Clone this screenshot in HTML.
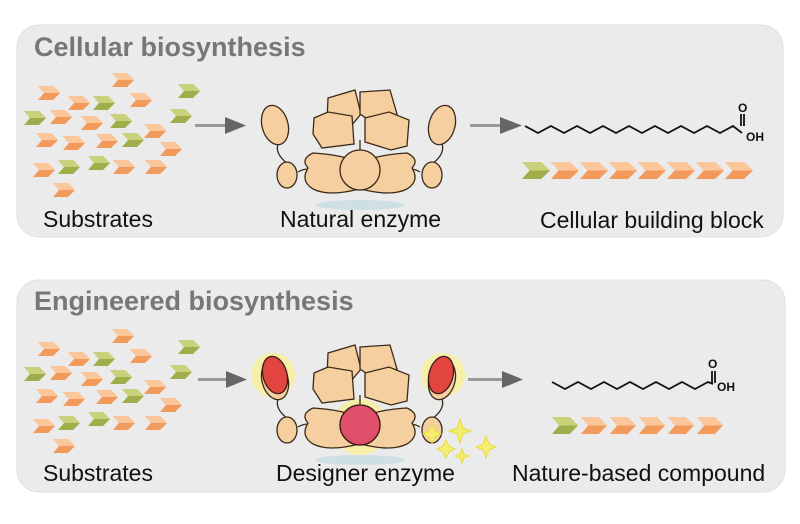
<!DOCTYPE html>
<html><head><meta charset="utf-8"><style>
html,body{margin:0;padding:0;background:#fff;}
svg{display:block}
</style></head><body>
<svg width="800" height="524" viewBox="0 0 800 524" xmlns="http://www.w3.org/2000/svg">
<defs>
<symbol id="cho" viewBox="0 0 22 14" overflow="visible" preserveAspectRatio="none"><path d="M0,0 H15 L22,7 L15,14 H0 L6,7 Z" fill="#f29a5c"/><path d="M0,0 H15 L22,7 H6 Z" fill="#fbc79a"/></symbol>
<symbol id="chg" viewBox="0 0 22 14" overflow="visible" preserveAspectRatio="none"><path d="M0,0 H15 L22,7 L15,14 H0 L6,7 Z" fill="#9fae4a"/><path d="M0,0 H15 L22,7 H6 Z" fill="#c8d27a"/></symbol>
<g id="subs">
<use href="#cho" x="38" y="86" width="22" height="14"/>
<use href="#cho" x="112" y="73" width="22" height="14"/>
<use href="#cho" x="68" y="96" width="22" height="14"/>
<use href="#chg" x="93" y="96" width="22" height="14"/>
<use href="#cho" x="130" y="93" width="22" height="14"/>
<use href="#chg" x="178" y="84" width="22" height="14"/>
<use href="#chg" x="24" y="111" width="22" height="14"/>
<use href="#cho" x="50" y="110" width="22" height="14"/>
<use href="#cho" x="81" y="116" width="22" height="14"/>
<use href="#chg" x="110" y="114" width="22" height="14"/>
<use href="#cho" x="144" y="124" width="22" height="14"/>
<use href="#chg" x="170" y="109" width="22" height="14"/>
<use href="#cho" x="36" y="133" width="22" height="14"/>
<use href="#cho" x="63" y="136" width="22" height="14"/>
<use href="#cho" x="96" y="134" width="22" height="14"/>
<use href="#chg" x="122" y="133" width="22" height="14"/>
<use href="#cho" x="160" y="142" width="22" height="14"/>
<use href="#cho" x="33" y="163" width="22" height="14"/>
<use href="#chg" x="58" y="160" width="22" height="14"/>
<use href="#chg" x="88" y="156" width="22" height="14"/>
<use href="#cho" x="113" y="160" width="22" height="14"/>
<use href="#cho" x="145" y="160" width="22" height="14"/>
<use href="#cho" x="53" y="183" width="22" height="14"/>
</g>
<g id="enz" stroke="#3a2a1a" stroke-width="1.3" fill="#f5cf9f">
<path d="M280,140 q-8,12 8,24 M440,140 q8,12 -8,24" fill="none"/>
<ellipse cx="275" cy="125" rx="13" ry="20" transform="rotate(-15 275 125)"/>
<ellipse cx="287" cy="175" rx="10" ry="13"/>
<ellipse cx="442" cy="125" rx="13" ry="20" transform="rotate(15 442 125)"/>
<ellipse cx="432" cy="175" rx="10" ry="13"/>
<path d="M298,172 q10,-6 20,0 M420,172 q-10,-6 -20,0" fill="none"/>
<path d="M328,98 l27,-8 l6,24 l-10,12 l-24,-4 z"/>
<path d="M360,92 l30,-2 l7,24 l-22,10 l-15,-10 z"/>
<path d="M314,118 l14,-6 l24,4 l2,28 l-32,4 l-9,-14 z"/>
<path d="M365,118 l24,-6 l20,8 l-2,26 l-16,4 l-26,-8 z"/>
<path d="M308,168 q-8,-9 5,-15 q32,2 46,10 l0,26 q-30,8 -46,0 q-13,-8 -5,-21 z"/>
<path d="M412,168 q8,-9 -5,-15 q-32,2 -46,10 l0,26 q30,8 46,0 q13,-8 5,-21 z"/>
<path d="M360,140 v12" fill="none"/>
<circle cx="360" cy="170" r="20"/>
</g>
</defs>

<rect x="17" y="25" width="766" height="212" rx="22" fill="#ebebeb" stroke="#e0e0e0"/>
<rect x="17" y="280" width="768" height="212" rx="22" fill="#ebebeb" stroke="#e0e0e0"/>

<g font-family="Liberation Sans, sans-serif">
<text x="34" y="56" font-size="27" font-weight="bold" fill="#777">Cellular biosynthesis</text>
<text x="34" y="310" font-size="27" font-weight="bold" fill="#777">Engineered biosynthesis</text>
<text x="43" y="227" font-size="23" fill="#111">Substrates</text>
<text x="280" y="227" font-size="23" fill="#111">Natural enzyme</text>
<text x="540" y="228" font-size="23" fill="#111">Cellular building block</text>
<text x="43" y="481" font-size="23" fill="#111">Substrates</text>
<text x="276" y="481" font-size="23" fill="#111">Designer enzyme</text>
<text x="512" y="481" font-size="23" fill="#111">Nature-based compound</text>
</g>

<use href="#subs"/>
<use href="#subs" y="256"/>

<g fill="#666">
<rect x="195" y="124" width="30" height="3" fill="#999"/><path d="M225,117 L246,125.5 L225,134 Z"/>
<rect x="470" y="124" width="30" height="3" fill="#999"/><path d="M500,117 L522,125.5 L500,134 Z"/>
<rect x="198" y="378" width="28" height="3" fill="#999"/><path d="M226,371 L247,379.5 L226,388 Z"/>
<rect x="468" y="378" width="34" height="3" fill="#999"/><path d="M502,371 L523,379.5 L502,388 Z"/>
</g>

<ellipse cx="360" cy="205" rx="45" ry="5" fill="#cfe0e4"/>
<use href="#enz"/>
<g transform="translate(0,255)">
<circle cx="273" cy="120" r="22" fill="#f7f0a0" opacity="0.9"/>
<circle cx="443" cy="120" r="22" fill="#f7f0a0" opacity="0.9"/>
<circle cx="360" cy="172" r="28" fill="#f7f0a0" opacity="0.9"/>
<ellipse cx="360" cy="205" rx="45" ry="5" fill="#cfe0e4"/>
<use href="#enz"/>
<ellipse cx="275" cy="120" rx="12" ry="19" transform="rotate(-15 275 120)" fill="#e0453f" stroke="#3a1a1a" stroke-width="1.3"/>
<ellipse cx="441" cy="120" rx="12" ry="19" transform="rotate(15 441 120)" fill="#e0453f" stroke="#3a1a1a" stroke-width="1.3"/>
<circle cx="360" cy="170" r="20" fill="#e0506a" stroke="#3a1a1a" stroke-width="1.3"/>
</g>
<g fill="#f4ee70" stroke="#e6dc40">
<path d="M429,431 l3,-6 l3,6 l6,3 l-6,3 l-3,6 l-3,-6 l-6,-3 z"/>
<path d="M457,428 l3,-9 l3,9 l8,3 l-8,3 l-3,9 l-3,-9 l-8,-3 z"/>
<path d="M443,446 l3,-6 l3,6 l6,3 l-6,3 l-3,6 l-3,-6 l-6,-3 z"/>
<path d="M483,444 l3,-8 l3,8 l7,3 l-7,3 l-3,8 l-3,-8 l-7,-3 z"/>
<path d="M460,454 l2,-5 l2,5 l5,2 l-5,2 l-2,5 l-2,-5 l-5,-2 z"/>
</g>

<g fill="none" stroke="#111" stroke-width="1.8">
<polyline points="525,126 538,133 551,126 564,133 577,126 590,133 603,126 616,133 629,126 642,133 655,126 668,133 681,126 694,133 707,126 720,133 733,126 742,133"/>
<path d="M741,126 v-12 M744,126 v-12"/>
<polyline points="552,382 565,389 578,382 591,389 604,382 617,389 630,382 643,389 656,382 669,389 682,382 695,389 708,382 713,384"/>
<path d="M712,383 v-12 M715,383 v-12"/>
</g>
<g font-family="Liberation Sans, sans-serif" font-weight="bold" font-size="12" fill="#111">
<text x="738" y="112">O</text><text x="746" y="141">OH</text>
<text x="708" y="368">O</text><text x="717" y="391">OH</text>
</g>

<g>
<use href="#chg" x="522" y="162" width="28" height="17"/>
<use href="#cho" x="551" y="162" width="28" height="17"/>
<use href="#cho" x="580" y="162" width="28" height="17"/>
<use href="#cho" x="609" y="162" width="28" height="17"/>
<use href="#cho" x="638" y="162" width="28" height="17"/>
<use href="#cho" x="667" y="162" width="28" height="17"/>
<use href="#cho" x="696" y="162" width="28" height="17"/>
<use href="#cho" x="725" y="162" width="28" height="17"/>
<use href="#chg" x="552" y="417" width="26" height="17"/>
<use href="#cho" x="581" y="417" width="26" height="17"/>
<use href="#cho" x="610" y="417" width="26" height="17"/>
<use href="#cho" x="639" y="417" width="26" height="17"/>
<use href="#cho" x="668" y="417" width="26" height="17"/>
<use href="#cho" x="697" y="417" width="26" height="17"/>
</g>
</svg>
</body></html>
